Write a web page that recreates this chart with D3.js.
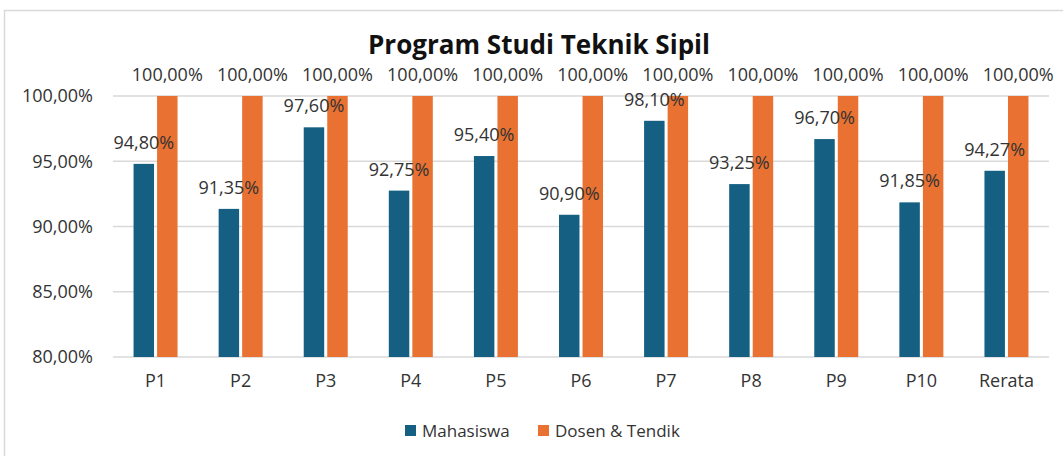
<!DOCTYPE html>
<html><head><meta charset="utf-8">
<script src="https://cdn.jsdelivr.net/npm/d3@7"></script>
<style>
html,body{margin:0;padding:0;background:#fff;}
svg{display:block;}
text{font-family:"Open Sans","Liberation Sans",sans-serif;}
</style></head>
<body><svg id="c" width="1063" height="456"></svg>
<script>
const categories = ["P1","P2","P3","P4","P5","P6","P7","P8","P9","P10","Rerata"];
const mahasiswa = [94.80,91.35,97.60,92.75,95.40,90.90,98.10,93.25,96.70,91.85,94.27];
const dosenTendik = [100,100,100,100,100,100,100,100,100,100,100];
const seriesNames = ["Mahasiswa","Dosen & Tendik"];
const yTicks = [80,85,90,95,100];
const title = "Program Studi Teknik Sipil";

const colors = ["#156082","#E97132"];
const textColor = "#333333";
const fmt = v => v.toFixed(2).replace(".", ",") + "%";

const svg = d3.select("#c");
svg.append("rect").attr("x",4.5).attr("y",10.5).attr("width",1080).attr("height",470)
  .attr("fill","#fff").attr("stroke","#d9d9d9").attr("stroke-width",1.5);

const L=113, R=1049, T=96, B=357;
const x = d3.scaleBand().domain(categories).range([L,R]).paddingInner(0).paddingOuter(0);
const y = d3.scaleLinear().domain([80,100]).range([B,T]);
const inner = d3.scaleBand().domain([0,1]).range([-22,22]).paddingInner(0.13);

// gridlines
svg.append("g").selectAll("line").data(yTicks).join("line")
  .attr("x1",L).attr("x2",R).attr("y1",d=>y(d)).attr("y2",d=>y(d))
  .attr("stroke","#d9d9d9").attr("stroke-width",1.5);

// y axis
const yAxis = d3.axisLeft(y).tickValues(yTicks).tickFormat(fmt).tickSize(0).tickPadding(0);
const ga = svg.append("g").attr("transform",`translate(93,0)`).call(yAxis);
ga.select(".domain").remove();
ga.selectAll("text").attr("font-size",18).attr("fill",textColor).attr("font-family","'Open Sans',sans-serif");

// x axis
const xAxis = d3.axisBottom(x).tickSize(0).tickPadding(0);
const gx = svg.append("g").attr("transform",`translate(0,${B+17})`).call(xAxis);
gx.select(".domain").remove();
gx.selectAll("text").attr("font-size",18).attr("fill",textColor).attr("font-family","'Open Sans',sans-serif");

const series = [mahasiswa, dosenTendik];
// bars first
series.forEach((vals,si)=>{
  svg.append("g").selectAll("rect").data(vals).join("rect")
    .attr("x",(d,i)=>x(categories[i])+x.bandwidth()/2+inner(si))
    .attr("width",inner.bandwidth())
    .attr("y",d=>y(d)).attr("height",d=>B-y(d))
    .attr("fill",colors[si]);
});
// labels on top
series.forEach((vals,si)=>{
  svg.append("g").selectAll("text").data(vals).join("text")
    .attr("x",(d,i)=>x(categories[i])+x.bandwidth()/2+inner(si)+inner.bandwidth()/2)
    .attr("y",d=>y(d)-15)
    .attr("text-anchor","middle").attr("font-size",18).attr("fill",textColor)
    .text(d=>fmt(d));
});

// title
svg.append("text").attr("x",539).attr("y",54).attr("text-anchor","middle")
  .attr("font-size",26).attr("font-weight","bold").attr("fill","#111")
  .attr("textLength",342).attr("lengthAdjust","spacingAndGlyphs")
  .attr("font-family","'Open Sans',sans-serif").text(title);

// legend
const lg = svg.append("g");
const legendX = [405, 538];
seriesNames.forEach((n,i)=>{
  lg.append("rect").attr("x",legendX[i]).attr("y",425).attr("width",11).attr("height",11).attr("fill",colors[i]);
  lg.append("text").attr("x",legendX[i]+17).attr("y",437).attr("font-size",17).attr("fill",textColor).text(n);
});
</script></body></html>
